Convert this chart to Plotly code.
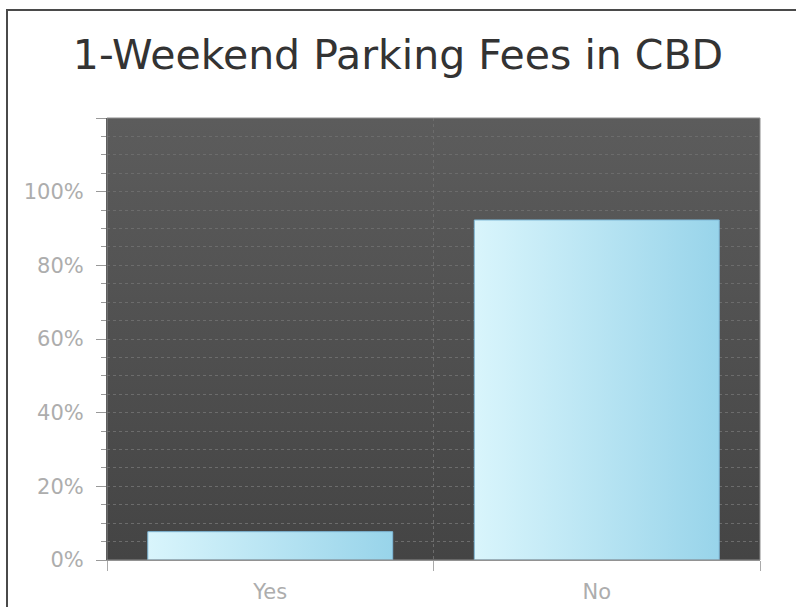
import base64
import plotly.graph_objects as go

# ---- data ----
categories = ["Yes", "No"]
values = [7.69, 92.31]
y_tick_vals = [0, 20, 40, 60, 80, 100, 120]
y_tick_text = ["0%", "20%", "40%", "60%", "80%", "100%", ""]
title_text = "1-Weekend Parking Fees in CBD"

BAR_WIDTH = 0.75
positions = list(range(len(categories)))

fig = go.Figure()

# bars drawn as gradient-filled polygons computed from the data
for pos, cat, val in zip(positions, categories, values):
    x0, x1 = pos - BAR_WIDTH / 2, pos + BAR_WIDTH / 2
    fig.add_trace(go.Scatter(
        x=[x0, x1, x1, x0, x0],
        y=[0, 0, val, val, 0],
        mode="lines",
        fill="toself",
        fillgradient=dict(type="horizontal",
                          colorscale=[[0, "#d9f5fc"], [1, "#98d4ea"]]),
        line=dict(color="#7fb9d9", width=1),
        name=cat,
        hoveron="fills",
        text=f"{cat}: {val:.2f}%",
        hoverinfo="text",
        showlegend=False,
    ))

# vertical gradient for plot background (SVG image, drawn under gridlines)
svg = ('<svg xmlns="http://www.w3.org/2000/svg" width="10" height="100" '
       'viewBox="0 0 10 100" preserveAspectRatio="none">'
       '<defs><linearGradient id="g" x1="0" y1="0" x2="0" y2="1">'
       '<stop offset="0" stop-color="#5c5c5c"/><stop offset="1" stop-color="#444444"/>'
       '</linearGradient></defs><rect width="10" height="100" fill="url(#g)"/></svg>')
bg_src = "data:image/svg+xml;base64," + base64.b64encode(svg.encode()).decode()

fig.update_layout(
    width=796, height=607,
    margin=dict(l=107, r=36, t=118, b=47, autoexpand=False),
    paper_bgcolor="white",
    plot_bgcolor="#505050",
    title=dict(text=title_text, x=0.5, xref="container", xanchor="center",
               y=1 - 55 / 607, yref="container", yanchor="middle",
               font=dict(family="DejaVu Sans", size=41, color="#333333")),
    font=dict(family="DejaVu Sans", size=21, color="#adadad"),
    images=[dict(source=bg_src, xref="x domain", yref="y domain", x=0, y=1,
                 sizex=1, sizey=1, xanchor="left", yanchor="top",
                 sizing="stretch", layer="below")],
    shapes=[
        # plot frame
        dict(type="rect", xref="x domain", yref="y domain", x0=0, x1=1, y0=0, y1=1,
             line=dict(color="#8c8c8c", width=1), layer="above"),
        # outer container border (partially visible)
        dict(type="rect", xref="paper", yref="paper",
             x0=(7 - 107) / 653, x1=1.2, y0=-0.2, y1=1 + (118 - 10) / 442,
             line=dict(color="#4a4a4a", width=2), layer="below"),
    ],
    hovermode="closest",
)

fig.update_xaxes(
    range=[-0.5, len(categories) - 0.5],
    tickmode="array", tickvals=positions, ticktext=categories,
    ticks="", showgrid=False, zeroline=False, automargin=False,
    tickfont=dict(family="DejaVu Sans", size=21, color="#adadad"),
    ticklabelstandoff=13,
    showline=True, linecolor="#999999", linewidth=1,
    minor=dict(tick0=-0.5, dtick=1, ticks="outside", ticklen=10,
               tickcolor="#aaaaaa", tickwidth=1,
               showgrid=True, gridcolor="#6c6c6c", griddash="dot", gridwidth=1),
    fixedrange=True,
)

fig.update_yaxes(
    range=[0, 120],
    tickmode="array", tickvals=y_tick_vals, ticktext=y_tick_text,
    ticks="outside", ticklen=10, tickcolor="#999999", tickwidth=1,
    tickfont=dict(family="DejaVu Sans", size=21, color="#adadad"),
    ticklabelstandoff=8, automargin=False,
    showgrid=True, gridcolor="#6c6c6c", griddash="dot", gridwidth=1,
    zeroline=False,
    showline=True, linecolor="#333333", linewidth=1,
    minor=dict(dtick=5, ticks="outside", ticklen=5, tickcolor="#999999",
               showgrid=True, gridcolor="#6c6c6c", griddash="dot", gridwidth=1),
    fixedrange=True,
)

fig.write_html("out.html", config={"displayModeBar": False},
               post_script="document.body.style.margin='0';")
